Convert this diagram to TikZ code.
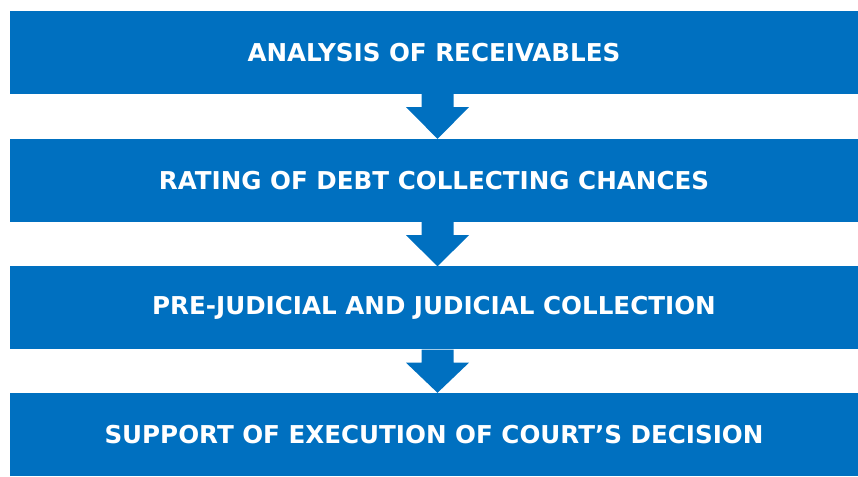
\documentclass[tikz,border=0pt]{standalone}
\usepackage{fontspec}
\setmainfont{DejaVu Sans}
\usetikzlibrary{calc}
\definecolor{stepblue}{HTML}{0070C0}
\begin{document}
\begin{tikzpicture}[x=1pt, y=1pt,
    every node/.style={rectangle, fill=stepblue, text=white, inner sep=0pt,
      minimum width=848pt, minimum height=83pt, font=\fontsize{24.6}{28}\selectfont\bfseries}]
      \useasboundingbox (0,0) rectangle (858,476);
      \node (analysis) at (434,423.5) {ANALYSIS OF RECEIVABLES};
      \node (rating) at (434,295.5) {RATING OF DEBT COLLECTING CHANCES};
      \node (collection) at (434,168) {PRE-JUDICIAL AND JUDICIAL COLLECTION};
      \node (execution) at (434,41.5) {SUPPORT OF EXECUTION OF COURT’S DECISION};
      \foreach \source/\dest in {analysis/rating, rating/collection, collection/execution}
        \fill[stepblue] ($(\source.south)+(-12.5,0)$) -- ($(\source.south)+(19.5,0)$)
          -- ($(\source.south)+(19.5,-13)$) -- ($(\source.south)+(35,-13)$)
          -- ($(\dest.north)+(3.5,0)$)
          -- ($(\source.south)+(-28,-13)$) -- ($(\source.south)+(-12.5,-13)$) -- cycle;
    \end{tikzpicture}
\end{document}
